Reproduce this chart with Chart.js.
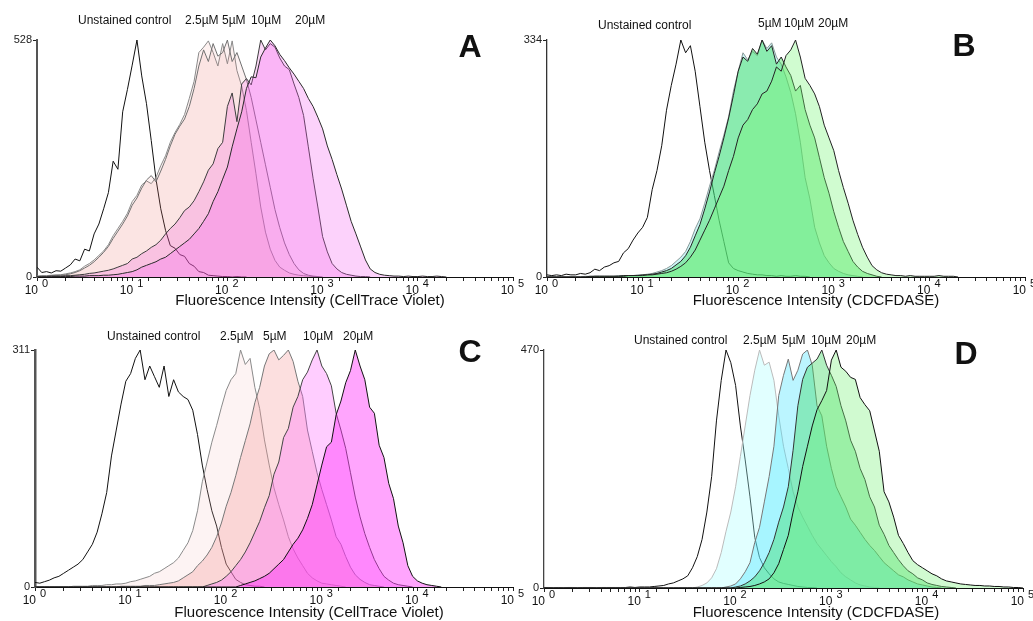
<!DOCTYPE html>
<html>
<head>
<meta charset="utf-8">
<script src="https://cdn.jsdelivr.net/npm/chart.js@4.4.0/dist/chart.umd.min.js"></script>
<style>
  body { margin: 0; background: #fff; }
  #wrap { position: relative; width: 1033px; height: 621px; overflow: hidden; }
  canvas { position: absolute; }
</style>
</head>
<body>
<div id="wrap">
  <canvas id="chartA" width="530" height="310" style="left:0;top:0;width:530px;height:310px"></canvas>
  <canvas id="chartB" width="518" height="310" style="left:515px;top:0;width:518px;height:310px"></canvas>
  <canvas id="chartC" width="530" height="311" style="left:0;top:310px;width:530px;height:311px"></canvas>
  <canvas id="chartD" width="518" height="311" style="left:515px;top:310px;width:518px;height:311px"></canvas>
</div>
<script>
// histogram channels (log spaced, 20 per decade)
const channels = [
  1, 1.122, 1.259, 1.413, 1.585, 1.778, 1.995, 2.239, 2.512, 2.818, 3.162, 3.548, 3.981, 4.467, 5.012, 5.623, 6.31, 7.079, 7.943, 8.913,
  10, 11.22, 12.59, 14.13, 15.85, 17.78, 19.95, 22.39, 25.12, 28.18, 31.62, 35.48, 39.81, 44.67, 50.12, 56.23, 63.1, 70.79, 79.43, 89.13,
  100, 112.2, 125.9, 141.3, 158.5, 177.8, 199.5, 223.9, 251.2, 281.8, 316.2, 354.8, 398.1, 446.7, 501.2, 562.3, 631, 707.9, 794.3, 891.3,
  1000, 1122, 1259, 1413, 1585, 1778, 1995, 2239, 2512, 2818, 3162, 3548, 3981, 4467, 5012, 5623, 6310, 7079, 7943, 8913,
  10000, 11220, 12590, 14130, 15850, 17780, 19950, 22390, 25120, 28180, 31620, 35480, 39810, 44670, 50120, 56230, 63100, 70790, 79430, 89130,
  100000
];
const decades = [1, 10, 100, 1000, 10000, 100000];

// ---- panel A : CellTrace Violet ----
const namesA = ['Unstained control', '2.5µM', '5µM', '10µM', '20µM'];
const yMaxA = 528;
const aUnstained = [22, 10, 12, 9, 14, 13, 20, 27, 40, 36, 62, 58, 96, 118, 152, 188, 258, 240, 368, 418,
  472, 528, 448, 386, 304, 218, 152, 104, 70, 64, 50, 46, 30, 24, 12, 10, 4, 3, 2, 1,
  1, 0, 1, 0, 0];
const a25 = [2, 3, 3, 4, 5, 5, 7, 9, 12, 16, 24, 30, 38, 48, 58, 72, 92, 108, 124, 142,
  168, 182, 205, 214, 208, 222, 248, 270, 300, 322, 340, 362, 398, 436, 500, 512, 526, 500, 470, 520,
  475, 526, 460, 425, 371, 300, 230, 156, 100, 62, 37, 22, 15, 9, 6, 4, 3, 2, 1, 0];
const a5 = [1, 2, 2, 3, 3, 4, 5, 7, 10, 14, 20, 26, 34, 44, 55, 68, 86, 102, 118, 136,
  160, 176, 198, 216, 226, 212, 236, 262, 292, 318, 336, 352, 380, 420, 470, 506, 480, 520, 492, 500,
  528, 480, 500, 470, 440, 400, 350, 300, 250, 200, 150, 110, 76, 50, 30, 16, 8, 4, 2, 1, 0];
const a10 = [1, 1, 1, 2, 2, 2, 3, 3, 4, 5, 6, 8, 9, 11, 13, 15, 18, 22, 26, 30,
  40, 44, 52, 58, 66, 72, 82, 96, 108, 118, 132, 148, 156, 170, 190, 212, 238, 252, 286, 300,
  380, 410, 346, 430, 442, 428, 470, 528, 506, 520, 512, 488, 470, 462, 430, 400, 360, 290, 220, 156,
  90, 56, 30, 18, 10, 6, 4, 2, 1, 1, 0];
const a20 = [0, 0, 0, 1, 1, 1, 1, 1, 2, 2, 2, 3, 3, 3, 4, 4, 5, 6, 8, 10,
  12, 16, 22, 26, 30, 34, 40, 44, 52, 60, 68, 76, 84, 96, 108, 124, 141, 168, 190, 218,
  245, 290, 330, 368, 420, 446, 444, 490, 510, 528, 515, 496, 482, 466, 452, 436, 420, 398, 380, 356,
  330, 292, 262, 228, 196, 160, 124, 96, 67, 38, 18, 10, 6, 4, 3, 2, 2, 1, 2, 1,
  1, 2, 1, 1, 2, 1, 0];

// ---- panel B : CDCFDASE ----
const namesB = ['Unstained control', '5µM', '10µM', '20µM'];
const yMaxB = 334;
const bUnstained = [3, 2, 3, 2, 4, 3, 3, 5, 4, 6, 11, 9, 14, 16, 20, 22, 34, 40, 52, 62,
  70, 84, 123, 150, 185, 235, 270, 300, 334, 316, 326, 290, 240, 190, 150, 115, 80, 50, 20, 12,
  9, 7, 5, 4, 3, 3, 2, 2, 1, 2, 1, 1, 2, 1, 1, 0];
const b5 = [0, 0, 0, 0, 0, 0, 0, 0, 1, 1, 1, 1, 1, 1, 1, 2, 2, 2, 2, 3,
  3, 4, 5, 7, 9, 12, 16, 22, 28, 36, 50, 68, 82, 104, 128, 150, 176, 200, 226, 262,
  290, 316, 306, 318, 312, 334, 322, 330, 310, 300, 282, 260, 230, 190, 140, 110, 70, 48, 30, 20,
  12, 8, 5, 3, 2, 1, 0];
const b10 = [0, 0, 0, 0, 0, 0, 0, 0, 0, 1, 1, 1, 1, 1, 1, 1, 2, 2, 2, 2,
  3, 3, 4, 5, 7, 9, 12, 17, 22, 30, 42, 58, 74, 96, 120, 146, 170, 196, 224, 256,
  290, 310, 304, 322, 314, 334, 318, 326, 300, 310, 296, 284, 262, 270, 236, 214, 196, 168, 140, 118,
  92, 70, 50, 36, 22, 14, 8, 5, 3, 1, 0];
const b20 = [0, 0, 0, 0, 0, 0, 0, 0, 0, 0, 1, 1, 1, 1, 1, 1, 1, 2, 2, 2,
  2, 3, 3, 4, 5, 6, 8, 11, 15, 20, 28, 38, 52, 66, 80, 96, 112, 128, 150, 170,
  196, 214, 222, 236, 244, 258, 262, 276, 296, 290, 312, 320, 334, 310, 280, 270, 258, 240, 214, 196,
  178, 150, 126, 104, 80, 60, 42, 28, 16, 10, 6, 4, 3, 2, 2, 1, 2, 1, 1, 1,
  1, 1, 2, 1, 1, 1, 0];

// ---- panel C : CellTrace Violet ----
const namesC = ['Unstained control', '2.5µM', '5µM', '10µM', '20µM'];
const yMaxC = 311;
const cUnstained = [6, 5, 7, 9, 12, 14, 18, 22, 26, 30, 36, 46, 56, 72, 96, 124, 172, 206, 240, 270,
  280, 300, 311, 272, 290, 276, 262, 290, 250, 272, 256, 250, 246, 232, 200, 160, 128, 100, 80, 52,
  30, 20, 10, 6, 3, 2, 1, 1, 0];
const c25 = [0, 0, 0, 0, 0, 0, 0, 0, 1, 1, 1, 1, 2, 2, 2, 3, 3, 4, 4, 5,
  7, 8, 10, 12, 14, 18, 20, 24, 28, 32, 38, 48, 58, 74, 100, 138, 164, 190, 212, 236,
  258, 272, 280, 311, 292, 300, 262, 234, 193, 160, 130, 108, 88, 66, 50, 38, 28, 18, 12, 8,
  5, 4, 3, 2, 1, 0];
const c5 = [0, 0, 0, 0, 0, 0, 0, 0, 0, 0, 0, 0, 0, 0, 0, 0, 0, 0, 1, 1,
  1, 1, 1, 2, 2, 2, 3, 4, 5, 6, 8, 12, 16, 20, 28, 34, 42, 52, 66, 84,
  106, 124, 146, 170, 192, 214, 242, 262, 290, 306, 311, 298, 304, 311, 296, 270, 250, 206, 178, 150,
  128, 108, 88, 66, 56, 40, 26, 16, 10, 6, 3, 2, 1, 0];
const c10 = [0, 0, 0, 0, 0, 0, 0, 0, 0, 0, 0, 0, 0, 0, 0, 0, 0, 0, 0, 0,
  0, 0, 0, 0, 0, 0, 0, 0, 0, 0, 0, 0, 0, 0, 0, 0, 2, 4, 6, 9,
  14, 20, 28, 36, 46, 58, 72, 86, 104, 120, 148, 164, 196, 208, 236, 250, 272, 282, 298, 311,
  290, 280, 264, 228, 206, 182, 150, 118, 92, 70, 52, 36, 24, 14, 9, 5, 3, 2, 1, 0];
const c20 = [0, 0, 0, 0, 0, 0, 0, 0, 0, 0, 0, 0, 0, 0, 0, 0, 0, 0, 0, 0,
  0, 0, 0, 0, 0, 0, 0, 0, 0, 0, 0, 0, 0, 0, 0, 0, 0, 0, 0, 0,
  0, 0, 0, 2, 4, 6, 8, 11, 14, 18, 24, 30, 36, 46, 56, 64, 75, 90, 108, 134,
  160, 184, 190, 226, 244, 268, 284, 311, 290, 272, 236, 228, 186, 170, 136, 116, 80, 58, 28, 14,
  8, 5, 3, 2, 1, 0];

// ---- panel D : CDCFDASE ----
const namesD = ['Unstained control', '2.5µM', '5µM', '10µM', '20µM'];
const yMaxD = 470;
const dUnstained = [1, 1, 0, 1, 0, 1, 1, 0, 1, 1, 1, 0, 1, 1, 1, 1, 1, 1, 2, 1,
  2, 2, 2, 3, 4, 5, 8, 10, 14, 18, 24, 40, 62, 96, 150, 220, 330, 410, 470, 445,
  400, 320, 253, 180, 100, 60, 40, 28, 18, 12, 9, 7, 5, 3, 2, 1, 1, 0];
const d25 = [0, 0, 0, 0, 0, 0, 0, 0, 0, 0, 0, 0, 0, 0, 0, 0, 0, 0, 0, 0,
  0, 0, 0, 0, 0, 0, 0, 0, 0, 0, 0, 0, 2, 5, 10, 20, 38, 70, 112, 150,
  200, 260, 320, 380, 430, 470, 440, 446, 410, 340, 280, 236, 190, 160, 140, 122, 104, 88, 76, 64,
  52, 42, 30, 22, 16, 10, 6, 4, 2, 1, 0];
const d5 = [0, 0, 0, 0, 0, 0, 0, 0, 0, 0, 0, 0, 0, 0, 0, 0, 0, 0, 0, 0,
  0, 0, 0, 0, 0, 0, 0, 0, 0, 0, 0, 0, 0, 0, 0, 0, 0, 0, 2, 4,
  8, 18, 32, 50, 90, 120, 170, 220, 280, 380, 420, 452, 410, 430, 462, 470, 440, 360, 340, 280,
  236, 200, 180, 160, 136, 124, 110, 96, 84, 74, 62, 50, 42, 34, 26, 22, 16, 12, 8, 6,
  4, 2, 1, 0];
const d10 = [0, 0, 0, 0, 0, 0, 0, 0, 0, 0, 0, 0, 0, 0, 0, 0, 0, 0, 0, 0,
  0, 0, 0, 0, 0, 0, 0, 0, 0, 0, 0, 0, 0, 0, 0, 0, 0, 0, 0, 0,
  2, 4, 8, 14, 22, 34, 50, 70, 96, 130, 160, 200, 272, 360, 412, 436, 444, 452, 470, 440,
  420, 398, 360, 330, 292, 270, 236, 214, 180, 160, 124, 106, 84, 70, 56, 44, 34, 28, 20, 16,
  10, 7, 5, 3, 2, 1, 0];
const d20 = [0, 0, 0, 0, 0, 0, 0, 0, 0, 0, 0, 0, 0, 0, 0, 0, 0, 0, 0, 0,
  0, 0, 0, 0, 0, 0, 0, 0, 0, 0, 0, 0, 0, 0, 0, 0, 0, 0, 0, 0,
  0, 1, 2, 3, 5, 8, 12, 18, 30, 48, 76, 104, 150, 190, 240, 280, 320, 352, 370, 390,
  450, 470, 436, 428, 416, 412, 376, 362, 350, 310, 270, 190, 170, 140, 104, 88, 70, 54, 46, 40,
  34, 28, 24, 18, 14, 12, 10, 8, 7, 6, 5, 5, 4, 4, 3, 3, 2, 2, 1, 1, 0];

const FONT = '"Liberation Sans", Arial, Helvetica, sans-serif';

function series(counts) {
  return counts.map((c, i) => ({ x: channels[i], y: c }));
}

// axis labels, series captions and the panel letter
function textPlugin(cfg) {
  return {
    id: 'panelText',
    afterDraw(chart) {
      const { ctx, chartArea } = chart;
      const xs = chart.scales.x;
      ctx.save();
      ctx.fillStyle = '#111';
      ctx.textBaseline = 'middle';
      decades.forEach((d) => {
        const px = xs.getPixelForValue(d);
        ctx.font = '12px ' + FONT;
        ctx.textAlign = 'right';
        ctx.fillText('10', px + 1, chartArea.bottom + 14);
        ctx.font = '11px ' + FONT;
        ctx.textAlign = 'left';
        ctx.fillText(String(Math.round(Math.log10(d))), px + 5, chartArea.bottom + 7);
      });
      ctx.font = '15px ' + FONT;
      ctx.textAlign = 'center';
      ctx.fillText(cfg.title, cfg.titleX, cfg.titleY);
      ctx.font = '12px ' + FONT;
      ctx.textAlign = 'left';
      cfg.heads.forEach((h, i) => ctx.fillText(cfg.names[i], h[0], h[1]));
      ctx.font = 'bold 32px ' + FONT;
      ctx.textAlign = 'center';
      ctx.fillText(cfg.letter, cfg.letterX, cfg.letterY);
      ctx.restore();
    }
  };
}

function makeChart(id, cfg) {
  const n = cfg.sets.length;
  const datasets = cfg.sets.map((s, i) => ({
    label: cfg.names[i],
    data: series(s),
    borderColor: cfg.lines[i],
    backgroundColor: cfg.fills[i] || 'rgba(0,0,0,0)',
    fill: cfg.fills[i] ? 'origin' : false,
    borderWidth: 1,
    pointRadius: 0,
    tension: 0,
    order: n - 1 - i,
  }));
  return new Chart(document.getElementById(id), {
    type: 'line',
    data: { datasets },
    options: {
      responsive: false,
      animation: false,
      events: [],
      layout: { padding: { top: 40, left: 0, right: cfg.right, bottom: 0 } },
      plugins: { legend: { display: false }, tooltip: { enabled: false } },
      scales: {
        x: {
          type: 'logarithmic',
          min: 1,
          max: 100000,
          grid: { drawOnChartArea: false, tickLength: 4, color: '#222' },
          border: { color: '#111', width: 1 },
          ticks: { display: false },
          afterFit: (s) => { s.height = cfg.xh; }
        },
        y: {
          min: 0,
          max: cfg.yMax,
          afterBuildTicks: (s) => { s.ticks = [{ value: 0 }, { value: cfg.yMax }]; },
          grid: { drawOnChartArea: false, tickLength: 4, color: '#222' },
          border: { color: cfg.yAxisColor, width: cfg.yAxisWidth },
          ticks: { padding: 1, color: '#222', autoSkip: false, font: { size: 11, family: FONT } },
          afterFit: (s) => { s.width = cfg.yw; }
        }
      }
    },
    plugins: [textPlugin(cfg)]
  });
}

makeChart('chartA', {
  sets: [aUnstained, a25, a5, a10, a20], names: namesA, yMax: yMaxA,
  lines: ['#111', '#8a8a8a', '#707070', '#3c3c3c', '#2a2a2a'],
  fills: [null, 'rgba(235,120,110,0.10)', 'rgba(235,120,120,0.10)', 'rgba(240,60,220,0.20)', 'rgba(245,80,240,0.26)'],
  yw: 37, right: 17, xh: 33, yAxisColor: '#555', yAxisWidth: 2,
  title: 'Fluorescence Intensity (CellTrace Violet)', titleX: 310, titleY: 301,
  heads: [[78, 21], [185, 21], [222, 21], [251, 21], [295, 21]],
  letter: 'A', letterX: 470, letterY: 48
});

makeChart('chartB', {
  sets: [bUnstained, b5, b10, b20], names: namesB, yMax: yMaxB,
  lines: ['#111', '#8a9a9a', '#222', '#222'],
  fills: [null, 'rgba(110,225,225,0.35)', 'rgba(40,220,70,0.40)', 'rgba(120,245,120,0.35)'],
  yw: 32, right: 8, xh: 33, yAxisColor: '#333', yAxisWidth: 1.3,
  title: 'Fluorescence Intensity (CDCFDASE)', titleX: 301, titleY: 301,
  heads: [[83, 26], [243, 24], [269, 24], [303, 24]],
  letter: 'B', letterX: 449, letterY: 47
});

makeChart('chartC', {
  sets: [cUnstained, c25, c5, c10, c20], names: namesC, yMax: yMaxC,
  lines: ['#111', '#8a8a8a', '#777', '#444', '#111'],
  fills: [null, 'rgba(245,190,190,0.18)', 'rgba(245,150,150,0.30)', 'rgba(255,90,255,0.30)', 'rgba(255,40,250,0.42)'],
  yw: 35, right: 17, xh: 34, yAxisColor: '#555', yAxisWidth: 2.5,
  title: 'Fluorescence Intensity (CellTrace Violet)', titleX: 309, titleY: 303,
  heads: [[107, 27], [220, 27], [263, 27], [303, 27], [343, 27]],
  letter: 'C', letterX: 470, letterY: 43
});

makeChart('chartD', {
  sets: [dUnstained, d25, d5, d10, d20], names: namesD, yMax: yMaxD,
  lines: ['#111', '#bbbbbb', '#777', '#333', '#111'],
  fills: [null, 'rgba(170,255,255,0.35)', 'rgba(60,225,255,0.35)', 'rgba(50,215,90,0.38)', 'rgba(110,240,110,0.32)'],
  yw: 29, right: 10, xh: 33, yAxisColor: '#444', yAxisWidth: 1.3,
  title: 'Fluorescence Intensity (CDCFDASE)', titleX: 301, titleY: 303,
  heads: [[119, 31], [228, 31], [267, 31], [296, 31], [331, 31]],
  letter: 'D', letterX: 451, letterY: 45
});
</script>
</body>
</html>
